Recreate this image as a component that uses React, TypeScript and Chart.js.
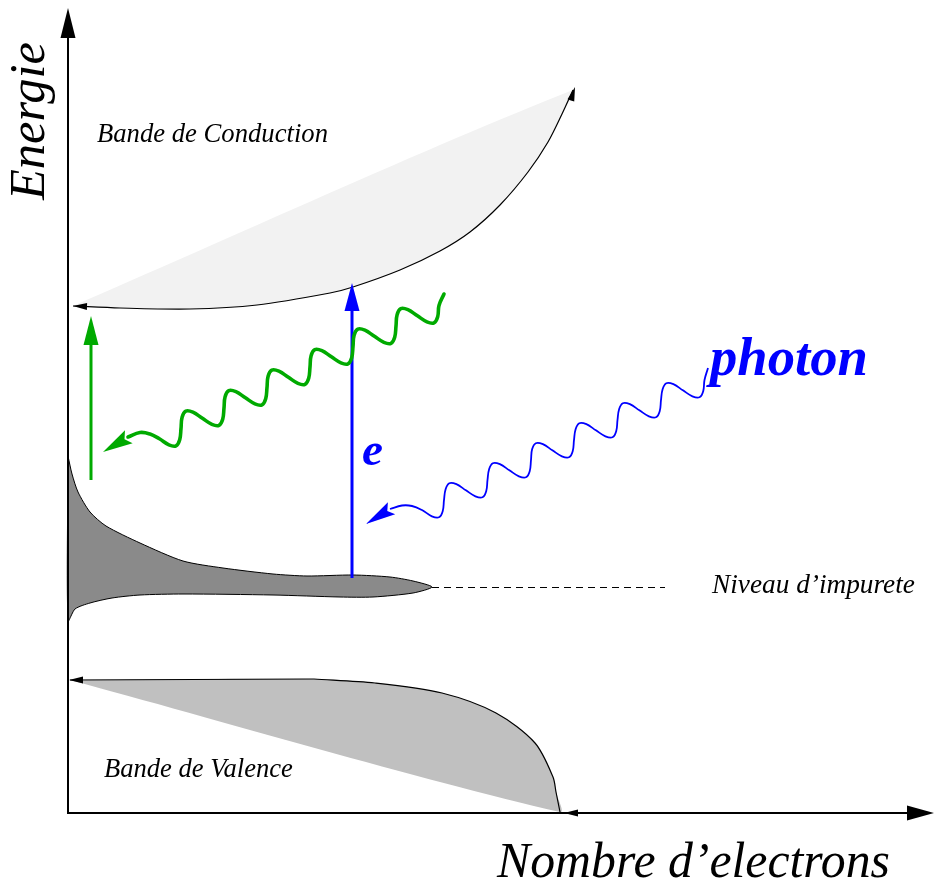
import React, { useEffect, useRef } from "react";
import { Chart, registerables } from "chart.js";

Chart.register(...registerables);

type P = [number, number];

// ---- frame (data units = picture units, y grows downward) ----
const xRange: P = [0, 934];
const yRange: P = [0, 886];

// ---- axes ----
const energyAxis: P[] = [[68, 813], [68, 30]];
const electronAxis: P[] = [[67, 813], [910, 813]];

// ---- conduction band ----
const conductionEdge: P[] = [
  [73, 306], [120, 308], [190, 309], [257, 305], [330, 293], [353, 287],
  [400, 270], [440, 251], [470, 232], [500, 205], [528, 172], [548, 142],
  [562, 114], [573, 90],
];
const conductionStraightEnd: P = [73, 306];

// ---- impurity band ----
const impurityUpper: P[] = [
  [68, 456], [72, 474], [78, 492], [90, 512], [106, 526], [140, 543],
  [183, 561], [223, 568], [273, 574], [307, 576], [353, 575], [390, 577],
  [413, 581], [432, 587],
];
const impurityLower: P[] = [
  [413, 593], [373, 597], [340, 597], [273, 595], [183, 594], [140, 595],
  [112, 598], [90, 603], [75, 609], [68, 621],
];
const impurityLevel: P[] = [[432, 587.5], [665, 587.5]];

// ---- valence band ----
const valenceTop: P[] = [[70, 680], [314, 679]];
const valenceEdge: P[] = [
  [314, 679], [375, 683], [442, 693], [496, 713], [535, 743], [553, 777],
  [556, 792], [560, 812],
];

// ---- transitions ----
const electronJump: P[] = [[352, 578], [352, 300]];
const greenJump: P[] = [[91, 480], [91, 335]];

// emitted photon (green), traced from its upper end
const greenPhoton: P[] = [
  [444, 294], [439, 305.5],
  [437.7, 316.7], [434, 322.8], [426.9, 321.8], [417.4, 315.8], [407.9, 309.7], [400.8, 308.7], [397.1, 314.8],
  [396, 326],
  [394.7, 337.2], [391, 343.3], [383.9, 342.3], [374.4, 336.3], [364.9, 330.2], [357.8, 329.2], [354.1, 335.3],
  [353, 346.5],
  [351.7, 357.7], [348, 363.8], [340.9, 362.8], [331.4, 356.8], [321.9, 350.7], [314.8, 349.7], [311.1, 355.8],
  [310, 367],
  [308.7, 378.2], [305, 384.3], [297.9, 383.3], [288.4, 377.3], [278.9, 371.2], [271.8, 370.2], [268.1, 376.3],
  [267, 387.5],
  [265.7, 398.7], [262, 404.8], [254.9, 403.8], [245.4, 397.8], [235.9, 391.7], [228.8, 390.7], [225.1, 396.8],
  [224, 408],
  [222.7, 419.2], [219, 425.3], [211.9, 424.3], [202.4, 418.3], [192.9, 412.2], [185.8, 411.2], [182.1, 417.3],
  [181, 428.5],
  [179.7, 439.7], [176, 445.8], [168.9, 444.8], [159.4, 438.8],
  [150, 434], [140, 432.5], [128, 437],
];
// absorbed photon (blue), traced from its upper end
const bluePhoton: P[] = [
  [708, 368], [704.5, 380],
  [703.2, 391.2], [699.5, 397.3], [692.4, 396.3], [682.9, 390.3], [673.4, 384.2], [666.3, 383.2], [662.6, 389.3],
  [661, 400],
  [659.7, 411.2], [656, 417.3], [648.9, 416.3], [639.4, 410.3], [629.9, 404.2], [622.8, 403.2], [619.1, 409.3],
  [617.5, 420],
  [616.2, 431.2], [612.5, 437.3], [605.4, 436.3], [595.9, 430.3], [586.4, 424.2], [579.3, 423.2], [575.6, 429.3],
  [574, 440],
  [572.7, 451.2], [569, 457.3], [561.9, 456.3], [552.4, 450.3], [542.9, 444.2], [535.8, 443.2], [532.1, 449.3],
  [531, 460],
  [529.7, 471.2], [526, 477.3], [518.9, 476.3], [509.4, 470.3], [499.9, 464.2], [492.8, 463.2], [489.1, 469.3],
  [487.5, 480],
  [486.2, 491.2], [482.5, 497.3], [475.4, 496.3], [465.9, 490.3], [456.4, 484.2], [449.3, 483.2], [445.6, 489.3],
  [444, 500],
  [442.7, 511.2], [439, 517.3], [431.9, 516.3], [422.4, 510.3],
  [412, 506], [402, 505.5], [390, 509],
];

// ---- arrowheads: tip, a point behind it, length, width, colour ----
type Head = { tip: P; from: P; len: number; wid: number; color: string; notch?: number };
const arrowHeads: Head[] = [
  { tip: [68, 8], from: [68, 40], len: 30, wid: 15, color: "#000" },
  { tip: [934, 813], from: [900, 813], len: 27, wid: 15, color: "#000" },
  { tip: [73, 306], from: [90, 306.5], len: 14, wid: 7, color: "#000" },
  { tip: [575, 87], from: [571, 100], len: 14, wid: 7, color: "#000" },
  { tip: [69, 680], from: [90, 680], len: 14, wid: 7, color: "#000" },
  { tip: [564, 813], from: [590, 813], len: 14, wid: 7, color: "#000" },
  { tip: [352, 283], from: [352, 300], len: 28, wid: 15, color: "#0000ff" },
  { tip: [91, 316], from: [91, 335], len: 29, wid: 15, color: "#00aa00" },
  { tip: [103, 452], from: [130, 436], len: 30, wid: 15, color: "#00aa00", notch: 5 },
  { tip: [366, 524], from: [392, 508], len: 30, wid: 14, color: "#0000ff", notch: 5 },
];

// ---- labels: text, baseline start, target width ----
type Label = {
  text: string; at: P; width: number; style: string; weight: string;
  color: string; rotate?: number;
};
const labels: Label[] = [
  { text: "Energie", at: [44, 200], width: 158, style: "italic", weight: "normal", color: "#000", rotate: -Math.PI / 2 },
  { text: "Bande de Conduction", at: [97, 142], width: 231, style: "italic", weight: "normal", color: "#000" },
  { text: "Bande de Valence", at: [104, 777], width: 189, style: "italic", weight: "normal", color: "#000" },
  { text: "Niveau d\u2019impurete", at: [712, 593], width: 203, style: "italic", weight: "normal", color: "#000" },
  { text: "Nombre d\u2019electrons", at: [497, 877], width: 393, style: "italic", weight: "normal", color: "#000" },
  { text: "photon", at: [710, 375], width: 158, style: "italic", weight: "bold", color: "#0000ff" },
  { text: "e", at: [362, 465], width: 21, style: "italic", weight: "bold", color: "#0000ff" },
];

const FAMILY = '"Liberation Serif", "DejaVu Serif", serif';

const toXY = (pts: P[]) => pts.map(([x, y]) => ({ x, y }));

const overlay = {
  id: "overlay",
  afterDatasetsDraw(chart: any) {
    const { ctx } = chart;
    const sx = chart.scales.x;
    const sy = chart.scales.y;
    const px = (p: P): P => [sx.getPixelForValue(p[0]), sy.getPixelForValue(p[1])];
    ctx.save();
    for (const h of arrowHeads) {
      const [tx, ty] = px(h.tip);
      const [fx, fy] = px(h.from);
      let dx = tx - fx, dy = ty - fy;
      const d = Math.hypot(dx, dy) || 1;
      dx /= d; dy /= d;
      const bx = tx - dx * h.len, by = ty - dy * h.len;
      const nx = -dy, ny = dx;
      const notch = h.notch || 0;
      ctx.beginPath();
      ctx.moveTo(tx, ty);
      ctx.lineTo(bx + nx * h.wid / 2, by + ny * h.wid / 2);
      ctx.lineTo(bx + dx * notch, by + dy * notch);
      ctx.lineTo(bx - nx * h.wid / 2, by - ny * h.wid / 2);
      ctx.closePath();
      ctx.fillStyle = h.color;
      ctx.fill();
    }
    for (const l of labels) {
      const [x, y] = px(l.at);
      ctx.font = `${l.style} ${l.weight} 40px ${FAMILY}`;
      const m = ctx.measureText(l.text).width || 1;
      const size = (40 * l.width) / m;
      ctx.font = `${l.style} ${l.weight} ${size.toFixed(2)}px ${FAMILY}`;
      ctx.fillStyle = l.color;
      ctx.textAlign = "left";
      ctx.textBaseline = "alphabetic";
      ctx.save();
      ctx.translate(x, y);
      if (l.rotate) ctx.rotate(l.rotate);
      ctx.fillText(l.text, 0, 0);
      ctx.restore();
    }
    ctx.restore();
  },
};

export default function App() {
  const ref = useRef<HTMLCanvasElement | null>(null);
  useEffect(() => {
    if (!ref.current) return;
    const line = (pts: P[], color: string, width: number, extra: any = {}) => ({
      data: toXY(pts),
      showLine: true,
      borderColor: color,
      borderWidth: width,
      pointRadius: 0,
      fill: false,
      tension: 0,
      clip: false,
      ...extra,
    });
    const shape = (pts: P[], color: string, extra: any = {}) => ({
      data: toXY(pts),
      showLine: true,
      borderColor: "rgba(0,0,0,0)",
      borderWidth: 0,
      backgroundColor: color,
      pointRadius: 0,
      fill: "shape",
      tension: 0,
      clip: false,
      ...extra,
    });
    const impurityShape: P[] = [...impurityUpper, ...impurityLower, impurityUpper[0]];
    const valenceShape: P[] = [valenceTop[0], ...valenceEdge, valenceTop[0]];
    const conductionShape: P[] = [...conductionEdge, conductionStraightEnd];

    const chart = new Chart(ref.current, {
      type: "scatter",
      data: {
        datasets: [
          line(greenPhoton, "#00aa00", 3.6, { tension: 0.4, borderCapStyle: "round", borderJoinStyle: "round" }),
          line(electronJump, "#0000ff", 3),
          line(bluePhoton, "#0000ff", 1.8, { tension: 0.4, borderJoinStyle: "round" }),
          line(greenJump, "#00aa00", 3),
          line(energyAxis, "#000", 2),
          line(electronAxis, "#000", 2),
          line(impurityLevel, "#000", 1, { borderDash: [7, 5] }),
          line(valenceTop, "#000", 1),
          line(valenceEdge, "#000", 1.2, { tension: 0.3 }),
          shape(valenceShape, "#c0c0c0", { tension: 0.3 }),
          shape(impurityShape, "#8a8a8a", { borderColor: "#000", borderWidth: 1, tension: 0.25 }),
          line(conductionEdge, "#000", 1.2, { tension: 0.3 }),
          shape(conductionShape, "#f2f2f2", { tension: 0.3 }),
        ] as any,
      },
      options: {
        responsive: false,
        maintainAspectRatio: false,
        animation: false,
        events: [],
        layout: { padding: 0 },
        plugins: {
          legend: { display: false },
          tooltip: { enabled: false },
        },
        scales: {
          x: { type: "linear", min: xRange[0], max: xRange[1], display: false },
          y: { type: "linear", min: yRange[0], max: yRange[1], reverse: true, display: false },
        },
      },
      plugins: [overlay],
    } as any);
    return () => chart.destroy();
  }, []);
  return (
    <div style={{ position: "fixed", left: 0, top: 0, width: 934, height: 886, background: "#fff" }}>
      <canvas ref={ref} width={934} height={886} style={{ display: "block" }} />
    </div>
  );
}
